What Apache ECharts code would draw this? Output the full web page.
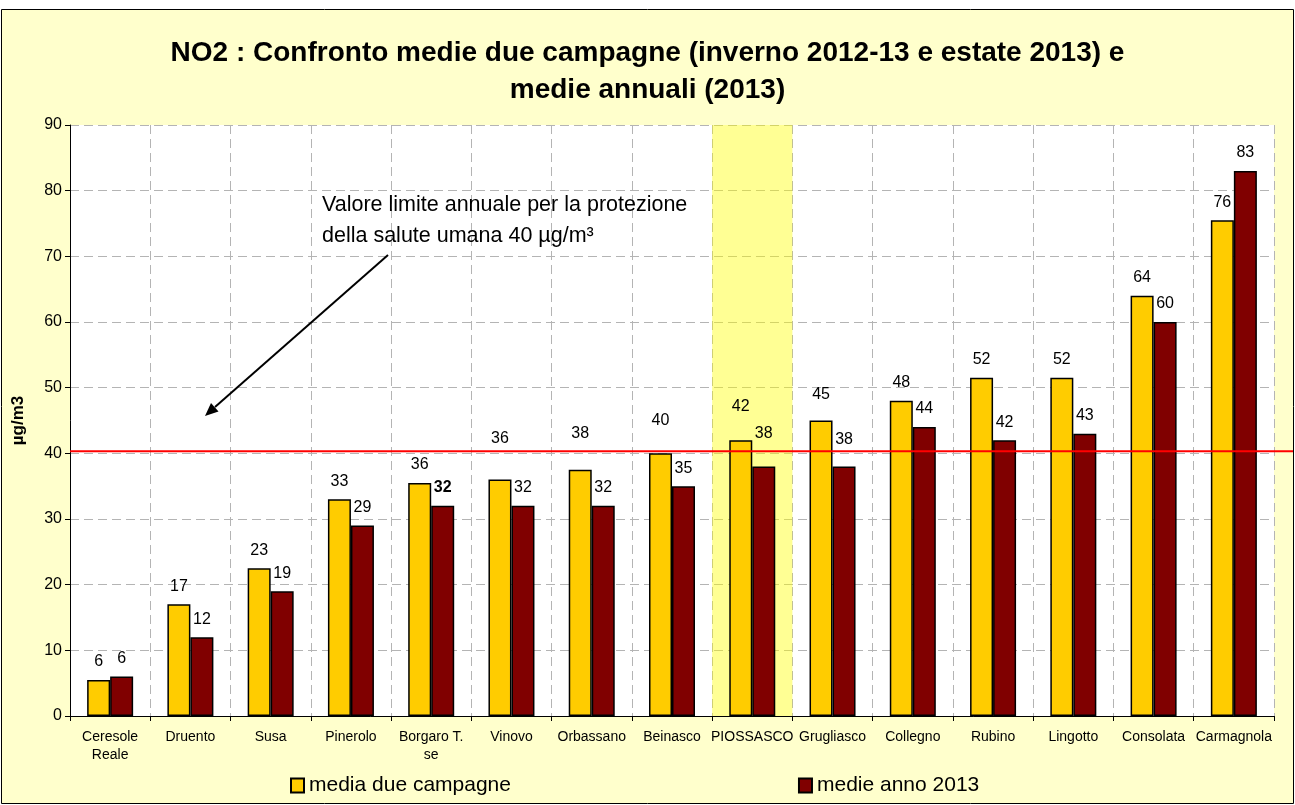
<!DOCTYPE html>
<html>
<head>
<meta charset="utf-8">
<script src="https://cdn.jsdelivr.net/npm/echarts@6/dist/echarts.min.js"></script>
<style>
  html, body { margin: 0; padding: 0; background: #fff; }
  #main { width: 1295px; height: 805px; }
</style>
</head>
<body>
<div id="main"></div>
<script>
// stations, ordered as in the chart
const categories = ['Ceresole\nReale', 'Druento', 'Susa', 'Pinerolo', 'Borgaro T.\nse', 'Vinovo',
  'Orbassano', 'Beinasco', 'PIOSSASCO', 'Grugliasco', 'Collegno', 'Rubino', 'Lingotto',
  'Consolata', 'Carmagnola'];
const mediaDueCampagne = [5.5, 17, 22.5, 33, 35.5, 36, 37.5, 40, 42, 45, 48, 51.5, 51.5, 64, 75.5];
const medieAnno2013 = [6, 12, 19, 29, 32, 32, 32, 35, 38, 38, 44, 42, 43, 60, 83];
const yMin = 0, yMax = 90, yStep = 10;
const limitValue = 40.3;
const highlightCategory = 'PIOSSASCO';

const FONT = '"Liberation Sans", Arial, sans-serif';

// some labels were moved up by hand in the original, away from the red line
const yellowLift = { 'Vinovo': 23, 'Orbassano': 18, 'Beinasco': 15, 'PIOSSASCO': 16, 'Grugliasco': 8 };
const redLift = { 'PIOSSASCO': 15, 'Grugliasco': 9 };
const boldRed = { 'Borgaro T.\nse': true };

function items(values, lift, bold) {
  return values.map(function (v, i) {
    const c = categories[i];
    const it = { value: v };
    if (lift[c] || (bold && bold[c])) {
      it.label = {};
      if (lift[c]) it.label.offset = [0, -lift[c]];
      if (bold && bold[c]) it.label.fontWeight = 'bold';
    }
    return it;
  });
}

const valueLabel = {
  show: true,
  position: 'top',
  distance: 10,
  color: '#000',
  fontFamily: FONT,
  fontSize: 16,
  formatter: function (p) { return Math.round(p.value); }
};

var chartDom = document.getElementById('main');
var myChart = echarts.init(chartDom);
var option;

option = {
  animation: false,
  backgroundColor: '#fff',
  title: {
    text: 'NO2 : Confronto medie due campagne (inverno 2012-13 e estate 2013) e\nmedie annuali (2013)',
    left: 'center',
    top: 30,
    textStyle: { fontFamily: FONT, fontSize: 28, fontWeight: 'bold', color: '#000', lineHeight: 37 }
  },
  legend: {
    data: ['media due campagne', 'medie anno 2013'],
    left: 285,
    top: 770,
    icon: 'rect',
    itemWidth: 13,
    itemHeight: 14,
    itemGap: 287,
    textStyle: { fontFamily: FONT, fontSize: 21, color: '#000' }
  },
  grid: {
    left: 70,
    right: 21,
    top: 125,
    bottom: 89,
    show: true,
    backgroundColor: '#fff',
    borderWidth: 0
  },
  xAxis: [
    {
      type: 'category',
      data: categories,
      axisLine: { lineStyle: { color: '#000', width: 1 } },
      axisTick: { show: true, length: 5, lineStyle: { color: '#000' } },
      axisLabel: { interval: 0, margin: 12, fontFamily: FONT, fontSize: 14, lineHeight: 18, color: '#000' },
      splitLine: { show: true, interval: 0, lineStyle: { color: '#b4b4b4', type: [9, 5] } }
    },
    {
      type: 'category',
      data: categories,
      show: false
    }
  ],
  yAxis: {
    type: 'value',
    min: yMin,
    max: yMax,
    interval: yStep,
    name: 'µg/m3',
    nameLocation: 'middle',
    nameRotate: 90,
    nameGap: 43,
    nameTextStyle: { fontFamily: FONT, fontSize: 17, fontWeight: 'bold', color: '#000' },
    axisLine: { show: true, lineStyle: { color: '#000' } },
    axisTick: { show: true, length: 5, lineStyle: { color: '#000' } },
    axisLabel: { margin: 8, fontFamily: FONT, fontSize: 16, color: '#000' },
    splitLine: { show: true, lineStyle: { color: '#b4b4b4', type: [9, 5] } }
  },
  series: [
    {
      name: 'band',
      type: 'bar',
      xAxisIndex: 1,
      barWidth: '100%',
      silent: true,
      z: 1,
      itemStyle: { color: 'rgba(255,255,0,0.42)' },
      data: categories.map(function (c) { return c === highlightCategory ? yMax : '-'; })
    },
    {
      name: 'media due campagne',
      type: 'bar',
      barWidth: 23,
      barGap: '0%',
      itemStyle: { color: '#ffcc00', borderColor: '#000', borderWidth: 1.5 },
      label: valueLabel,
      data: items(mediaDueCampagne, yellowLift)
    },
    {
      name: 'medie anno 2013',
      type: 'bar',
      barWidth: 23,
      itemStyle: { color: '#800000', borderColor: '#000', borderWidth: 1.5 },
      label: valueLabel,
      data: items(medieAnno2013, redLift, boldRed)
    }
  ],
  graphic: {
    elements: [
      {
        type: 'rect',
        z: -10,
        silent: true,
        shape: { x: 1.5, y: 9.5, width: 1292, height: 794 },
        style: { fill: '#ffffcc', stroke: '#000', lineWidth: 1 }
      },
      {
        type: 'text',
        left: 322,
        top: 190,
        z: 100,
        style: {
          text: 'Valore limite annuale per la protezione\ndella salute umana 40 µg/m³',
          font: '21.5px ' + FONT,
          lineHeight: 31,
          fill: '#000'
        }
      },
      {
        type: 'line',
        z: 100,
        shape: { x1: 388, y1: 255, x2: 215, y2: 407 },
        style: { stroke: '#000', lineWidth: 2 }
      },
      {
        type: 'polygon',
        z: 100,
        shape: { points: [[205, 416], [218.5, 411.5], [211, 403]] },
        style: { fill: '#000' }
      }
    ]
  }
};

option && myChart.setOption(option);

// the red limit line starts at the y axis and runs on to the right border of the chart box
var limitY = myChart.convertToPixel({ yAxisIndex: 0 }, limitValue);
var gridLeft = myChart.convertToPixel({ xAxisIndex: 0 }, categories[0]) - 40;
myChart.setOption({
  graphic: {
    elements: option.graphic.elements.concat([{
      type: 'line',
      z: 90,
      silent: true,
      shape: { x1: gridLeft, y1: limitY, x2: 1293, y2: limitY },
      style: { stroke: '#ff0000', lineWidth: 2 }
    }])
  }
});
</script>
</body>
</html>
